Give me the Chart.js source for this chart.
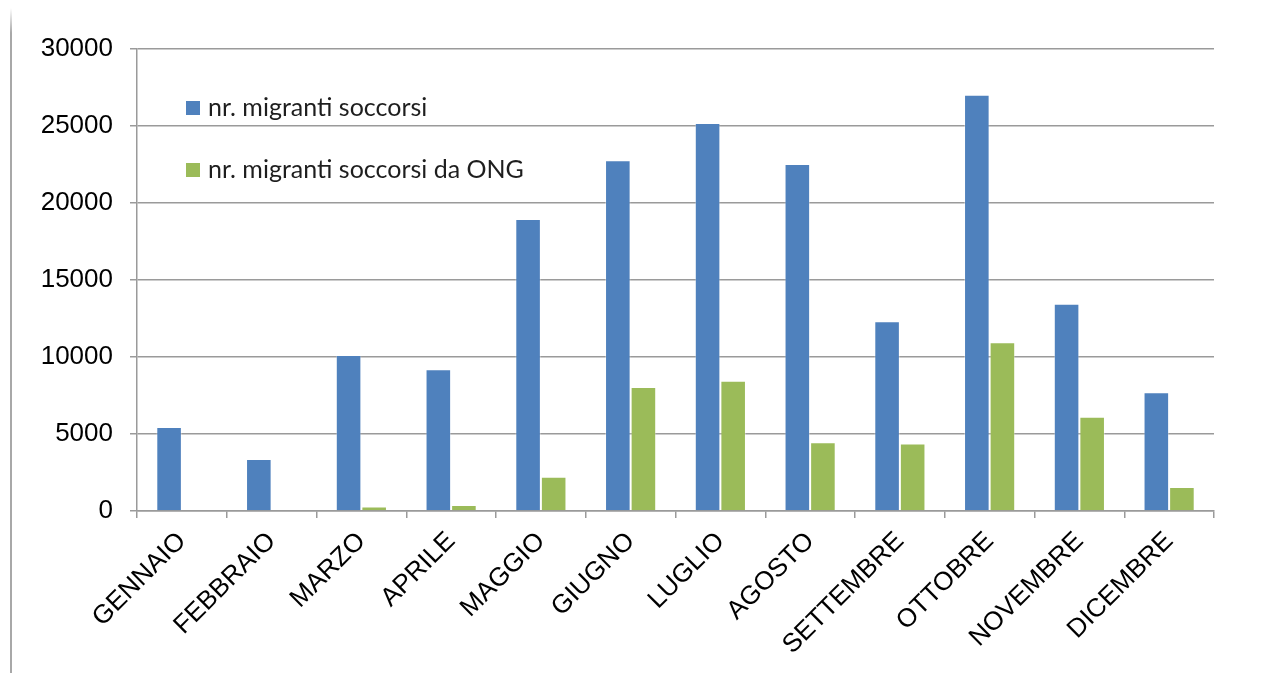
<!DOCTYPE html>
<html>
<head>
<meta charset="utf-8">
<script src="https://cdn.jsdelivr.net/npm/chart.js@4"></script>
<style>
  html, body { margin: 0; padding: 0; background: #fff; }
  #wrap { position: relative; width: 1282px; height: 673px; }
  #bordo { position: absolute; left: 10px; top: 8px; width: 2px; height: 665px;
           background: linear-gradient(#ffffff, #a8a8a8 25px, #a8a8a8); }
</style>
</head>
<body>
<div id="wrap">
  <div id="bordo"></div>
  <canvas id="graficoMigranti" width="1282" height="673"></canvas>
</div>
<script>
// Mesi
const mesi = ['GENNAIO', 'FEBBRAIO', 'MARZO', 'APRILE', 'MAGGIO', 'GIUGNO',
  'LUGLIO', 'AGOSTO', 'SETTEMBRE', 'OTTOBRE', 'NOVEMBRE', 'DICEMBRE'];

// Serie
const soccorsi = [5450, 3380, 10130, 9200, 18960, 22770, 25190, 22530, 12320, 27030, 13460, 7710];
const soccorsiOng = [0, 0, 300, 390, 2230, 8050, 8460, 4460, 4390, 10950, 6120, 1560];

// Asse Y
const tickY = [0, 5000, 10000, 15000, 20000, 25000, 30000];

// legenda dentro l'area del grafico (in alto a sinistra)
const legendaInterna = {
  id: 'legendaInterna',
  afterDatasetsDraw(chart) {
    const ctx = chart.ctx;
    const area = chart.chartArea;
    ctx.save();
    ctx.font = '25px Lato, "Open Sans", sans-serif';
    ctx.textBaseline = 'middle';
    chart.data.datasets.forEach((ds, i) => {
      const x = area.left + 49;
      const y = area.top + 52 + i * 62;
      ctx.fillStyle = ds.backgroundColor;
      ctx.fillRect(x, y, 14, 14);
      ctx.fillStyle = '#1e1e1e';
      ctx.fillText(ds.label, x + 22, y + 7);
    });
    ctx.restore();
  }
};

const ctxMigranti = document.getElementById('graficoMigranti').getContext('2d');
new Chart(ctxMigranti, {
  type: 'bar',
  data: {
    labels: mesi,
    datasets: [{
      label: 'nr. migranti soccorsi',
      data: soccorsi,
      backgroundColor: '#4f81bd',
      borderColor: 'rgba(255, 255, 255, 0.35)',
      borderWidth: 1,
      categoryPercentage: 0.57,
      barPercentage: 1.0
    }, {
      label: 'nr. migranti soccorsi da ONG',
      data: soccorsiOng,
      backgroundColor: '#9bbb59',
      borderColor: 'rgba(255, 255, 255, 0.35)',
      borderWidth: 1,
      categoryPercentage: 0.57,
      barPercentage: 1.0
    }]
  },
  options: {
    responsive: false,
    animation: false,
    layout: { padding: { left: 0, right: 68, top: 49, bottom: 0 } },
    plugins: {
      legend: { display: false },
      tooltip: { enabled: false }
    },
    scales: {
      x: {
        grid: {
          drawOnChartArea: false,
          drawTicks: true,
          tickLength: 7,
          color: '#9a9a9a',
          lineWidth: 1.5
        },
        border: { color: '#9a9a9a', width: 1.5 },
        ticks: {
          minRotation: 45,
          maxRotation: 45,
          padding: 8,
          color: '#000',
          font: { family: '"Liberation Sans", Arial, sans-serif', size: 26 }
        },
        afterFit(scale) { scale.height = 162; }
      },
      y: {
        min: 0,
        max: 30000,
        afterBuildTicks(scale) { scale.ticks = tickY.map(v => ({ value: v })); },
        grid: {
          color: '#9a9a9a',
          lineWidth: 1.5,
          tickLength: 7
        },
        border: { color: '#9a9a9a', width: 1.5 },
        ticks: {
          padding: 17,
          color: '#000',
          font: { family: '"Liberation Sans", Arial, sans-serif', size: 26 },
          callback: v => String(v)
        },
        afterFit(scale) { scale.width = 137; }
      }
    }
  },
  plugins: [legendaInterna]
});
</script>
</body>
</html>
